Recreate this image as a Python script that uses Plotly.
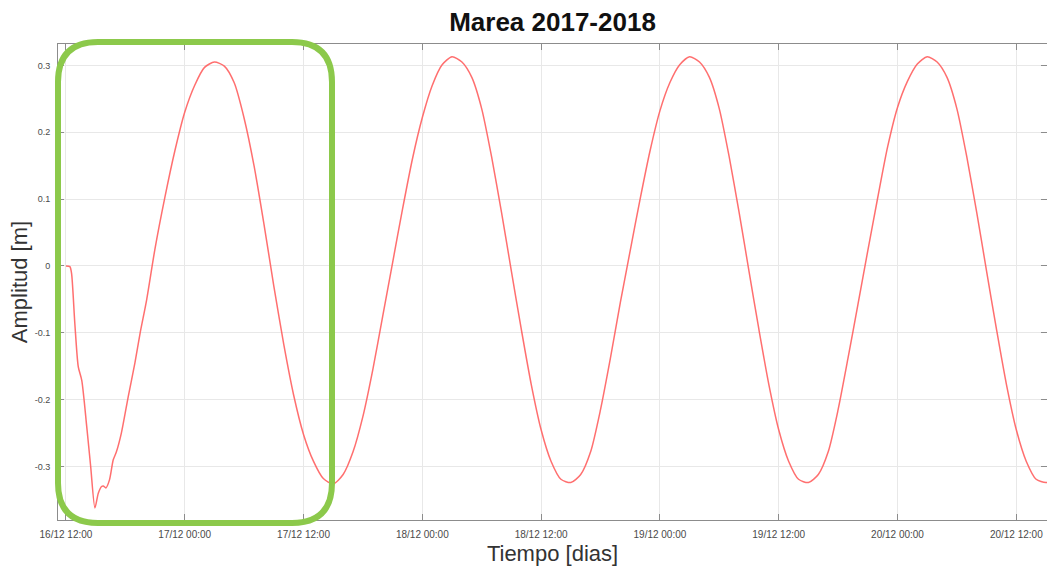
import datetime as dt
import plotly.graph_objects as go

# Tide record: hours after 16/12/2017 12:00 and water level (m)
hours = [
    0.0, 0.4, 0.57, 0.9, 1.25, 1.6, 2.1, 2.5, 2.93, 3.27, 3.6, 3.77, 4.04, 4.4,
    4.78, 5.1, 5.6, 6.3, 6.97, 7.5, 8.15,
    9, 10, 11, 12, 13, 14, 15, 16, 17, 18, 19, 20, 21, 22, 23, 24, 25, 26, 27,
    28, 29, 30, 31, 32, 33, 34, 35, 36, 37, 38, 39, 40, 41, 42, 43, 44, 45, 46,
    47, 48, 49, 50, 51, 52, 53, 54, 55, 56, 57, 58, 59, 60, 61, 62, 63, 64, 65,
    66, 67, 68, 69, 70, 71, 72, 73, 74, 75, 76, 77, 78, 79, 80, 81, 82, 83, 84,
    85, 86, 87, 88, 89, 90, 91, 92, 93, 94, 95, 96, 97, 98, 99, 100,
]
level = [
    0.0, -0.001, -0.011, -0.086, -0.151, -0.171, -0.240, -0.300, -0.362, -0.340,
    -0.330, -0.329, -0.332, -0.320, -0.290, -0.278, -0.250, -0.195, -0.145,
    -0.100, -0.051,
    0.026, 0.103, 0.172, 0.230, 0.270, 0.297, 0.305,
    0.299, 0.274, 0.221, 0.150, 0.063, -0.030, -0.117, -0.193, -0.252, -0.292,
    -0.318, -0.326,
    -0.312, -0.278, -0.225, -0.155, -0.075, 0.005, 0.085, 0.160, 0.222, 0.270,
    0.301, 0.313,
    0.305, 0.282, 0.235, 0.163, 0.080, -0.008, -0.095, -0.177, -0.245, -0.292,
    -0.319, -0.324,
    -0.312, -0.278, -0.215, -0.138, -0.055, 0.023, 0.100, 0.172, 0.232, 0.274,
    0.301, 0.313,
    0.305, 0.282, 0.235, 0.163, 0.080, -0.008, -0.095, -0.177, -0.245, -0.292,
    -0.319, -0.324,
    -0.312, -0.278, -0.215, -0.138, -0.058, 0.023, 0.102, 0.178, 0.237, 0.276,
    0.302, 0.313,
    0.305, 0.282, 0.235, 0.163, 0.080, -0.008, -0.095, -0.177, -0.245, -0.292,
    -0.319, -0.324, -0.318,
]

start = dt.datetime(2017, 12, 16, 12, 0)
times = [start + dt.timedelta(hours=h) for h in hours]

x_ticks = [start + dt.timedelta(hours=12 * k) for k in range(9)]
x_tick_labels = [t.strftime("%d/%m %H:%M") for t in x_ticks]
y_ticks = [-0.3, -0.2, -0.1, 0.0, 0.1, 0.2, 0.3]
y_tick_labels = ["-0.3", "-0.2", "-0.1", "0", "0.1", "0.2", "0.3"]

W, H = 1047, 566
ML, MR, MT, MB = 58, 0, 44, 46
FONT = "Liberation Sans, Arial"

fig = go.Figure()
fig.add_trace(go.Scatter(
    x=times, y=level, mode="lines",
    line=dict(color="rgba(255,95,95,0.9)", width=1.5, shape="spline", smoothing=0.7),
    showlegend=False,
))

axis_common = dict(
    showline=True, linecolor="#8c8c8c", linewidth=1, mirror="ticks",
    ticks="inside", ticklen=6, tickcolor="#8c8c8c", tickwidth=1,
    showgrid=True, gridcolor="#e8e8e8", gridwidth=1, zeroline=False,
)

fig.update_xaxes(
    **axis_common,
    range=[start - dt.timedelta(minutes=48), start + dt.timedelta(hours=99.1)],
    tickvals=x_ticks, ticktext=x_tick_labels,
    tickfont=dict(family=FONT, size=10, color="#4a4a4a"),
    ticklabelstandoff=5,
    title=dict(text="Tiempo [dias]", standoff=10,
               font=dict(family=FONT, size=22, color="#333333")),
)
fig.update_yaxes(
    **axis_common,
    range=[-0.38, 0.332],
    tickvals=y_ticks, ticktext=y_tick_labels,
    tickfont=dict(family=FONT, size=9, color="#4a4a4a"),
    ticklabelstandoff=5,
    title=dict(text="Amplitud [m]", standoff=0,
               font=dict(family=FONT, size=22, color="#333333")),
)

# Rounded highlight frame around the first cycle, given in pixels
def px_to_paper(px, py):
    pw, ph = W - ML - MR, H - MT - MB
    return (px - ML) / pw, 1 - (py - MT) / ph

x0, y0, x1, y1, r = 58, 42, 332, 523, 40
pts = {
    "a": px_to_paper(x0 + r, y0), "b": px_to_paper(x1 - r, y0),
    "c": px_to_paper(x1, y0), "d": px_to_paper(x1, y0 + r),
    "e": px_to_paper(x1, y1 - r), "f": px_to_paper(x1, y1),
    "g": px_to_paper(x1 - r, y1), "h": px_to_paper(x0 + r, y1),
    "i": px_to_paper(x0, y1), "j": px_to_paper(x0, y1 - r),
    "k": px_to_paper(x0, y0 + r), "l": px_to_paper(x0, y0),
}
p = lambda k: f"{pts[k][0]:.5f},{pts[k][1]:.5f}"
path = (f"M {p('a')} L {p('b')} Q {p('c')} {p('d')} L {p('e')} Q {p('f')} {p('g')} "
        f"L {p('h')} Q {p('i')} {p('j')} L {p('k')} Q {p('l')} {p('a')} Z")
fig.add_shape(type="path", path=path, xref="paper", yref="paper",
              line=dict(color="#8cc94b", width=6), layer="above")

fig.update_layout(
    width=W, height=H,
    margin=dict(l=ML, r=MR, t=MT, b=MB),
    paper_bgcolor="white", plot_bgcolor="white",
    title=dict(text="<b>Marea 2017-2018</b>", x=(ML + (W - MR)) / 2 / W, xanchor="center",
               y=1 - 22 / H, yanchor="middle", yref="container",
               font=dict(family=FONT, size=26, color="#111111")),
)

fig.write_html("out.html")
